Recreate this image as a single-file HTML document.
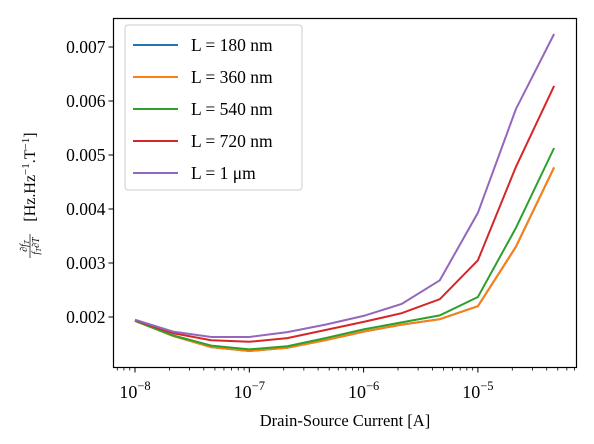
<!DOCTYPE html>
<html><head><meta charset="utf-8"><style>
body{margin:0;background:#fff}
svg{display:block;font-family:"Liberation Serif",serif}
</style></head><body>
<svg id="chart" width="594" height="444" viewBox="0 0 594 444" xmlns="http://www.w3.org/2000/svg">
<g id="plot"></g>
<g id="ylab" transform="translate(30,196) rotate(-90)">
<text x="-50" y="-3" font-size="10" font-style="italic" text-anchor="middle">∂f<tspan font-size="7" dy="2">T</tspan></text>
<line x1="-62" y1="0" x2="-38" y2="0" stroke="#000" stroke-width="0.7"/>
<text x="-50" y="9" font-size="10" font-style="italic" text-anchor="middle">f<tspan font-size="7" dy="2">T</tspan><tspan dy="-2">∂T</tspan></text>
<text x="19" y="5" font-size="16" text-anchor="middle">[Hz.Hz<tspan font-size="11" dy="-6">−1</tspan><tspan dy="6">.T</tspan><tspan font-size="11" dy="-6">−1</tspan><tspan dy="6">]</tspan></text>
</g>
<text x="345" y="426" font-size="16.5" text-anchor="middle">Drain-Source Current [A]</text>
</svg>
<script>
const xValues=[1e-8,2.15e-8,4.64e-8,1e-7,2.15e-7,4.64e-7,1e-6,2.15e-6,4.64e-6,1e-5,2.15e-5,4.64e-5];
const seriesL180=[0.00193,0.00165,0.00144,0.00137,0.00143,0.00157,0.00173,0.00186,0.00196,0.00220,0.00330,0.00477];
const seriesL360=[0.00193,0.00165,0.00144,0.00137,0.00143,0.00157,0.00173,0.00186,0.00196,0.00220,0.00330,0.00477];
const seriesL540=[0.00193,0.00166,0.00147,0.00140,0.00146,0.00161,0.00177,0.00190,0.00203,0.00237,0.00365,0.00513];
const seriesL720=[0.00194,0.00170,0.00157,0.00154,0.00161,0.00176,0.00191,0.00207,0.00233,0.00305,0.00478,0.00628];
const seriesL1u=[0.00195,0.00173,0.00163,0.00163,0.00172,0.00186,0.00202,0.00224,0.00268,0.00393,0.00585,0.00724];
const seriesNames=["L = 180 nm","L = 360 nm","L = 540 nm","L = 720 nm","L = 1 μm"];
const yTicks=[0.002,0.003,0.004,0.005,0.006,0.007];
const yTickLabels=["0.002","0.003","0.004","0.005","0.006","0.007"];
const xTickExps=[-8,-7,-6,-5];

const NS="http://www.w3.org/2000/svg";
const L=113.5,R=576.5,T=18.5,B=367.5;
const sx=v=>135+(Math.log10(v)+8)*114.3;
const sy=v=>317-(v-0.002)*54000;
const plot=document.getElementById('plot');
function mk(tag,attrs,parent){const e=document.createElementNS(NS,tag);for(const k in attrs)e.setAttribute(k,attrs[k]);(parent||plot).appendChild(e);return e;}
const colors=["#1f77b4","#ff7f0e","#2ca02c","#d62728","#9467bd"];
const all=[seriesL180,seriesL360,seriesL540,seriesL720,seriesL1u];
all.forEach((s,i)=>{
 const p=mk('polyline',{points:s.map((v,j)=>sx(xValues[j]).toFixed(1)+','+sy(v).toFixed(1)).join(' '),fill:'none',stroke:colors[i],'stroke-width':2});
 
 
});
const frame=mk('rect',{x:L,y:T,width:R-L,height:B-T,fill:'none',stroke:'#000','stroke-width':1.2});


yTicks.forEach((v,i)=>{
 const y=sy(v);
 mk('line',{x1:L-5,x2:L,y1:y,y2:y,stroke:'#000','stroke-width':1});
 const t=mk('text',{x:L-8,y:y+6,'font-size':17.5,'text-anchor':'end'});
 t.textContent=yTickLabels[i];
 
 
});
for(let e=-9;e<=-5;e++){for(let m=1;m<10;m++){const x=sx(m*Math.pow(10,e));if(x<L||x>R)continue;
 mk('line',{x1:x,x2:x,y1:B,y2:B+(m===1?5:3),stroke:'#000','stroke-width':m===1?1:0.8});}}
xTickExps.forEach(e=>{
 const x=sx(Math.pow(10,e));
 const t=mk('text',{x:x,y:398,'font-size':18,'text-anchor':'middle'});
 t.innerHTML='10<tspan font-size="12.5" dy="-8">−'+(-e)+'</tspan>';
 
 
});
const lg=mk('g',{});


mk('rect',{x:125,y:25,width:177,height:165,rx:3,fill:'#fff','fill-opacity':0.8,stroke:'#ccc'},lg);
seriesNames.forEach((n,i)=>{
 const y=45+i*32;
 const ln=mk('line',{x1:133,x2:178,y1:y,y2:y,stroke:colors[i],'stroke-width':2},lg);
 
 
 const t=mk('text',{x:191,y:y+6,'font-size':17.5},lg);
 t.textContent=n;
 
 
});
</script>
</body></html>
